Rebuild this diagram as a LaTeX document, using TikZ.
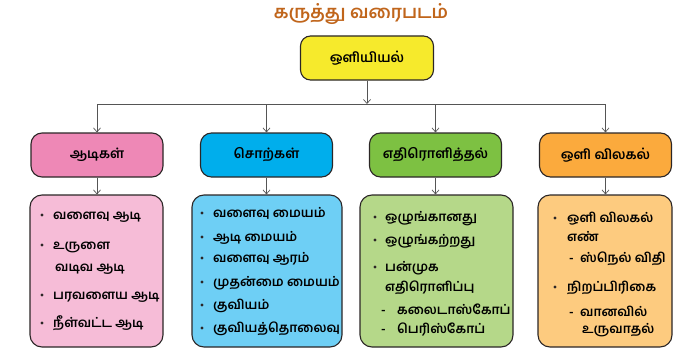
\documentclass[tikz,border=0pt]{standalone}
\usepackage{fontspec}
\newfontfamily\tamil[Script=Tamil]{Hind Madurai SemiBold}
\newfontfamily\tamilbold[Script=Tamil]{Hind Madurai}
\usetikzlibrary{positioning,arrows.meta}
\definecolor{titlebrown}{HTML}{C0651B}
\definecolor{boxline}{HTML}{2B2626}
\definecolor{linkgray}{HTML}{555555}
\definecolor{topyellow}{HTML}{F6EA2C}
\definecolor{pinkhead}{HTML}{EE88B6}
\definecolor{pinkbody}{HTML}{F6BCD7}
\definecolor{bluehead}{HTML}{00AEEC}
\definecolor{bluebody}{HTML}{6ECFF5}
\definecolor{greenhead}{HTML}{7DC142}
\definecolor{greenbody}{HTML}{B5D889}
\definecolor{orangehead}{HTML}{FBAA3D}
\definecolor{orangebody}{HTML}{FDCB7F}

\begin{document}
\begin{tikzpicture}[x=1pt,y=-1pt,
    box/.style={draw=boxline, line width=1.1pt, rounded corners=11pt,
        minimum width=132pt, minimum height=44pt, inner sep=0pt,
        font=\tamil\fontsize{13.5}{15}\selectfont},
    body/.style={draw=boxline, line width=1.1pt, rounded corners=12pt,
        minimum height=152pt, inner sep=0pt},
    item/.style={anchor=base west, inner sep=0pt,
        font=\tamil\fontsize{13}{16}\selectfont},
    dot/.style={circle, fill=boxline, inner sep=0pt, minimum size=3.4pt},
    link/.style={draw=linkgray, line width=0.7pt},
    arr/.style={link, -{Straight Barb[length=4pt,width=7pt]}}]
    \useasboundingbox (0,0) rectangle (693,353);
    % Title
    \node[font=\tamilbold\bfseries\fontsize{18}{21}\selectfont, text=titlebrown] (title) at (361,14) {கருத்து வரைபடம்};
    % Main topic
    \node[box, fill=topyellow, minimum width=133pt, rounded corners=10pt] (top) at (367,58) {ஒளியியல்};
    % Second level boxes
    \node[box, fill=pinkhead] (h1) at (97,155) {ஆடிகள்};
    \node[box, fill=bluehead] (h2) at (266.5,155) {சொற்கள்};
    \node[box, fill=greenhead] (h3) at (435.5,155) {எதிரொளித்தல்};
    \node[box, fill=orangehead] (h4) at (605.5,155) {ஒளி விலகல்};
    % Bottom boxes
    \node[body, fill=pinkbody, minimum width=133pt] (b1) at (96.5,271) {};
    \node[body, fill=bluebody, minimum width=150pt] (b2) at (267,271) {};
    \node[body, fill=greenbody, minimum width=153pt] (b3) at (436.5,271) {};
    \node[body, fill=orangebody, minimum width=134pt] (b4) at (605,271) {};
    % Connectors
    \coordinate (bus) at (367,104);
    \draw[link] (h1.north |- bus) -- (h4.north |- bus);
    \foreach \i in {1,...,4} {
        \draw[arr] (h\i.north |- bus) -- (h\i.north);
        \draw[arr] (h\i.south) -- (h\i.south |- b\i.north);
    }
    \draw[arr] (top.south) -- (bus);
    % Items of the pink box
    \foreach \y [count=\n] in {215,245,295,323}
        \node[dot] (pd\n) at (42,\y) {};
    \foreach \x/\y/\t [count=\n] in {53/215/{வளைவு ஆடி}, 53/245/{உருளை},
        55/267/{வடிவ ஆடி}, 53/295/{பரவளைய ஆடி}, 53/323/{நீள்வட்ட ஆடி}}
        \node[item] (pt\n) at (\x,\y+4.5) {\t};
    % Items of the blue box
    \foreach \y/\t [count=\n] in {213/{வளைவு மையம்}, 237/{ஆடி மையம்},
        258/{வளைவு ஆரம்}, 282/{முதன்மை மையம்}, 305/{குவியம்}, 328/{குவியத்தொலைவு}} {
        \node[dot] (bd\n) at (202,\y) {};
        \node[item] (bt\n) at (213,\y+4.5) {\t};
    }
    % Items of the green box
    \foreach \y [count=\n] in {217,240,267}
        \node[dot] (gd\n) at (375,\y) {};
    \foreach \x/\y/\t [count=\n] in {385/217/{ஒழுங்கானது}, 385/240/{ஒழுங்கற்றது},
        385/267/{பன்முக}, 385/287/{எதிரொளிப்பு}, 397/310/{கலைடாஸ்கோப்}, 397/329/{பெரிஸ்கோப்}}
        \node[item] (gt\n) at (\x,\y+4.5) {\t};
    \foreach \y [count=\n] in {310,329}
        \node[item] (gm\n) at (381,\y+4.5) {-};
    % Items of the orange box
    \foreach \y [count=\n] in {218,287}
        \node[dot] (od\n) at (555,\y) {};
    \foreach \x/\y/\t [count=\n] in {567/218/{ஒளி விலகல்}, 567/237/{எண்},
        580/258/{ஸ்நெல் விதி}, 567/287/{நிறப்பிரிகை}, 580/312/{வானவில்}, 582/329/{உருவாதல்}}
        \node[item] (ot\n) at (\x,\y+4.5) {\t};
    \foreach \y [count=\n] in {258,312}
        \node[item] (om\n) at (569,\y+4.5) {-};
\end{tikzpicture}
\end{document}
